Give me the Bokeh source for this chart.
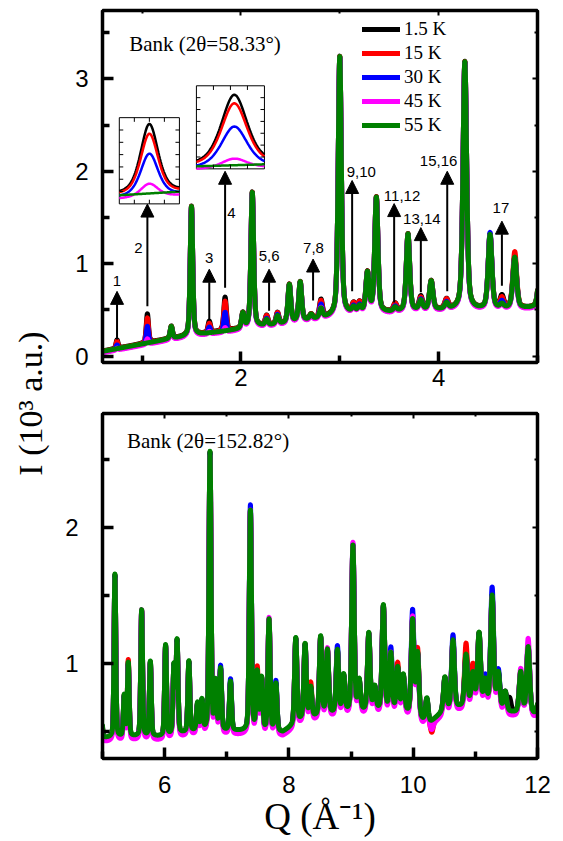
import numpy as np
from bokeh.plotting import figure
from bokeh.models import (Range1d, LinearAxis, FixedTicker, Label, Legend, LegendItem,
                          Arrow, NormalHead, ColumnDataSource)
from bokeh.layouts import row, column
from bokeh.embed import file_html
from bokeh.resources import INLINE
from bokeh.core.properties import value

SERIF = "Liberation Serif"
SANS = "Liberation Sans"

temps = ["1.5 K", "15 K", "30 K", "45 K", "55 K"]
colors = ["#000000", "#ff0000", "#0000ff", "#ff00ff", "#008000"]

# ---------------- Bank 2theta = 58.33 (top) ----------------
top_bg_q = [0.6, 0.8, 1.0, 1.25, 1.45, 1.7, 2.0, 2.2, 2.45, 2.7, 2.9, 3.15, 3.5, 3.8, 4.1, 4.4, 4.7, 5.0]
top_bg_i = [0.05, 0.09, 0.13, 0.18, 0.21, 0.25, 0.29, 0.32, 0.35, 0.39, 0.42, 0.46, 0.47, 0.49, 0.50, 0.50, 0.51, 0.52]
top_peak_q = [1.296, 1.50, 2.02, 2.115, 2.26, 2.37, 2.49, 2.60, 2.71, 2.81, 3.00, 3.14, 3.20, 3.28,
              3.37, 3.56, 3.69, 3.82, 3.925, 4.08, 4.265, 4.52, 4.64, 4.77, 5.03]
top_peak_i = [0.13, 1.40, 0.16, 1.46, 0.06, 0.09, 0.41, 0.42, 0.05, 0.10, 2.80, 0.05, 0.06, 0.42,
              1.24, 0.04, 0.83, 0.10, 0.31, 0.06, 2.68, 0.80, 0.04, 0.55, 0.52]
# temperature dependent (magnetic) contributions
top_mag_q = [0.747, 1.054, 1.68, 1.84, 2.26, 2.37, 2.81, 3.14, 3.20, 3.56, 3.82, 4.08, 4.52, 4.64, 4.77]
top_mag_black = [0.09, 0.31, 0.12, 0.36, 0.04, 0.03, 0.09, 0.04, 0.04, 0.04, 0.04, 0.04, 0.00, 0.09, 0.00]
top_mag_red = [0.08, 0.27, 0.10, 0.32, 0.04, 0.03, 0.08, 0.04, 0.04, 0.04, 0.03, 0.04, 0.00, 0.07, 0.06]
top_mag_blue = [0.05, 0.19, 0.07, 0.21, 0.02, 0.02, 0.05, 0.02, 0.02, 0.02, 0.02, 0.02, 0.03, 0.04, 0.00]
top_mag_magenta = [0.02, 0.06, 0.03, 0.05, 0.01, 0.01, 0.02, 0.01, 0.01, 0.00, 0.01, 0.01, 0.01, 0.01, 0.00]
top_mag_green = [0.0] * 15
top_offset = [0.004, 0.0, -0.010, -0.016, 0.0]

# peak markers (arrows) in the top bank
arrow_q = [0.747, 1.054, 1.68, 1.84, 2.285, 2.73, 3.125, 3.55, 3.82, 4.087, 4.64]
arrow_from = [0.18, 0.54, 0.40, 0.74, 0.49, 0.60, 0.70, 0.58, 0.69, 0.70, 0.76]
arrow_to = [0.70, 1.645, 0.94, 2.00, 0.94, 1.05, 1.90, 1.65, 1.39, 2.00, 1.46]
arrow_text = ["1", "2", "3", "4", "5,6", "7,8", "9,10", "11,12", "13,14", "15,16", "17"]
arrow_text_q = [0.747, 0.963, 1.68, 1.904, 2.285, 2.734, 3.217, 3.63, 3.83, 4.00, 4.63]
arrow_text_i = [0.81, 1.17, 1.06, 1.55, 1.08, 1.17, 1.99, 1.73, 1.48, 2.11, 1.60]

# ---------------- Bank 2theta = 152.82 (bottom) ----------------
bot_bg_q = [5.0, 5.5, 6.0, 6.5, 7.0, 7.5, 7.9, 8.2, 8.6, 9.0, 9.5, 9.9, 10.25, 10.5, 11.0, 11.5, 12.0]
bot_bg_i = [0.45, 0.46, 0.46, 0.50, 0.50, 0.50, 0.49, 0.58, 0.62, 0.64, 0.65, 0.63, 0.55, 0.65, 0.70, 0.64, 0.62]
bot_peak_q = [4.98, 5.20, 5.35, 5.415, 5.63, 5.77, 6.015, 6.15, 6.20, 6.39, 6.53, 6.60, 6.73, 6.82, 6.90,
              7.06, 7.38, 7.49, 7.56, 7.68, 7.79, 8.11, 8.26, 8.35, 8.51, 8.62, 8.78, 8.88, 9.03, 9.13,
              9.285, 9.38, 9.52, 9.64, 9.75, 9.84, 9.99, 10.07, 10.22, 10.51, 10.64, 10.85, 10.96, 11.06,
              11.16, 11.27, 11.37, 11.48, 11.73, 11.85, 12.02]
bot_peak_i = [0.25, 1.20, 0.30, 0.54, 0.93, 0.55, 0.67, 0.50, 0.68, 0.52, 0.20, 0.22, 2.05, 0.35, 0.45,
              0.36, 1.62, 0.42, 0.38, 0.82, 0.35, 0.63, 0.55, 0.22, 0.58, 0.47, 0.46, 0.27, 1.22, 0.22,
              0.57, 0.17, 0.77, 0.42, 0.32, 0.27, 0.70, 0.47, 0.18, 0.24, 0.50, 0.37, 0.22, 0.52,
              0.18, 0.82, 0.26, 0.14, 0.30, 0.49, 0.10]
bot_dev_q = [5.415, 5.63, 6.90, 7.06, 7.38, 7.49, 7.68, 7.79, 8.35, 8.62, 8.78, 9.03, 9.285, 9.64, 9.75,
             9.99, 10.07, 10.30, 10.64, 10.85, 10.96, 11.16, 11.27, 11.37, 11.55, 11.73, 11.85]
bot_dev_black = [0.01, 0.0, 0.0, 0.0, 0.0, 0.0, 0.0, 0.0, 0.0, 0.0, 0.0, 0.0, 0.0, 0.0, 0.0,
                 0.0, 0.0, -0.03, 0.0, 0.02, 0.02, 0.0, 0.0, 0.0, 0.10, 0.0, 0.0]
bot_dev_red = [0.03, 0.0, 0.0, 0.0, 0.0, 0.04, 0.0, 0.0, 0.04, 0.0, 0.0, 0.0, 0.0, 0.0, 0.04,
               0.0, 0.04, -0.08, 0.0, 0.09, 0.07, 0.0, 0.0, 0.0, 0.0, 0.0, 0.0]
bot_dev_blue = [0.0, 0.0, 0.03, 0.03, 0.05, 0.0, 0.0, 0.03, 0.0, 0.0, 0.04, 0.02, 0.0, 0.05, 0.0,
                0.08, 0.0, -0.02, 0.05, 0.0, 0.0, 0.04, 0.07, 0.03, 0.0, 0.0, 0.02]
bot_dev_magenta = [0.0, 0.03, 0.01, 0.0, 0.03, 0.0, 0.04, 0.0, 0.0, 0.04, 0.0, 0.05, 0.02, 0.03, 0.0,
                   0.05, 0.0, -0.04, 0.02, 0.0, 0.0, 0.0, 0.02, 0.0, 0.0, 0.05, 0.09]
bot_dev_green = [0.0] * 27
bot_offset = [-0.005, -0.010, -0.012, -0.030, 0.0]


def pseudo_voigt(q, centers, amps, fa, fb, eta):
    out = np.zeros_like(q)
    for c, a in zip(centers, amps):
        hw = (fa + fb * c) / 2.0
        t = ((q - c) / hw) ** 2
        out += a * (eta / (1.0 + t) + (1.0 - eta) * np.exp(-np.log(2.0) * t))
    return out


q_top = np.linspace(0.6, 5.0, 4401)
top_base = np.interp(q_top, top_bg_q, top_bg_i) + pseudo_voigt(q_top, top_peak_q, top_peak_i, 0.022, 0.005, 0.45)
top_mags = [top_mag_black, top_mag_red, top_mag_blue, top_mag_magenta, top_mag_green]
top_curves = [top_base + pseudo_voigt(q_top, top_mag_q, m, 0.022, 0.005, 0.45) + o
              for m, o in zip(top_mags, top_offset)]

q_bot = np.linspace(5.0, 12.0, 5601)
bot_base = np.interp(q_bot, bot_bg_q, bot_bg_i) + pseudo_voigt(q_bot, bot_peak_q, bot_peak_i, 0.012, 0.004, 0.3)
bot_devs = [bot_dev_black, bot_dev_red, bot_dev_blue, bot_dev_magenta, bot_dev_green]
bot_curves = [bot_base + pseudo_voigt(q_bot, bot_dev_q, d, 0.012, 0.004, 0.3) + o
              for d, o in zip(bot_devs, bot_offset)]


def style_axis(ax, size, standoff, tin, minin, lw):
    ax.axis_line_width = lw
    ax.axis_line_color = "black"
    ax.major_tick_line_width = lw
    ax.minor_tick_line_width = lw
    ax.major_tick_in = tin
    ax.major_tick_out = 0
    ax.minor_tick_in = minin
    ax.minor_tick_out = 0
    ax.major_label_text_font = SANS
    ax.major_label_text_font_size = size
    ax.major_label_text_color = "black"
    ax.major_label_standoff = standoff


def add_axes(p, xt, xm, yt, ym, xstand, ystand):
    xb = LinearAxis(ticker=FixedTicker(ticks=xt, minor_ticks=xm))
    style_axis(xb, "24px", xstand, 11, 7, 3.5)
    p.add_layout(xb, "below")
    yl = LinearAxis(ticker=FixedTicker(ticks=yt, minor_ticks=ym))
    style_axis(yl, "24px", ystand, 11, 7, 3.5)
    p.add_layout(yl, "left")
    # mirrored frame axes: ticks only, no labels
    xa = LinearAxis(ticker=FixedTicker(ticks=xt, minor_ticks=xm),
                    major_label_overrides={t: "" for t in xt})
    style_axis(xa, "1px", 0, 5, 3, 2)
    xa.axis_line_width = 3.5
    p.add_layout(xa, "above")
    yr = LinearAxis(ticker=FixedTicker(ticks=yt, minor_ticks=ym),
                    major_label_overrides={t: "" for t in yt})
    style_axis(yr, "1px", 0, 5, 3, 2)
    yr.axis_line_width = 3.5
    p.add_layout(yr, "right")
    return xb, yl


# ---------------- left strip with the shared y label ----------------
left = figure(width=62, height=841, x_range=Range1d(0, 1), y_range=Range1d(0, 1),
              toolbar_location=None, output_backend="svg", min_border=0,
              x_axis_location=None, y_axis_location=None, outline_line_color=None)
left.grid.visible = False
left.add_layout(Label(x=30, y=438, x_units="screen", y_units="screen", text="I (10³ a.u.)",
                      angle=np.pi / 2, text_align="center", text_baseline="middle",
                      text_font=SERIF, text_font_size="34px", text_color="black"))

# ---------------- top panel ----------------
top = figure(width=501, height=400, x_range=Range1d(0.6, 5.0), y_range=Range1d(-0.07, 3.74),
             toolbar_location=None, output_backend="svg",
             min_border_left=38, min_border_right=25, min_border_top=10, min_border_bottom=38,
             x_axis_location=None, y_axis_location=None, outline_line_color="black", outline_line_width=3)
top.grid.visible = False
add_axes(top, [2, 4], [1, 3, 5], [0, 1, 2, 3], [0.5, 1.5, 2.5, 3.5], 6, 14)

top_renderers = []
for y, c in zip(top_curves, colors):
    r = top.line(q_top, y, line_color=c, line_width=5, line_join="round", line_cap="round")
    top_renderers.append(r)

# insets (zoom on peaks 2 and 4)
inset_box = [(0.770, 1.378, 1.647, 2.580), (1.550, 2.238, 2.026, 2.925)]
inset_win = [(1.014, 1.094, 0.095, 0.485), (1.801, 1.871, 0.255, 0.685)]
for (bx0, bx1, by0, by1), (wx0, wx1, wy0, wy1) in zip(inset_box, inset_win):
    top.quad(left=[bx0], right=[bx1], bottom=[by0], top=[by1], fill_color="white",
             line_color="black", line_width=1)
    m = (q_top >= wx0) & (q_top <= wx1)
    for y, c in zip(top_curves, colors):
        X = bx0 + (q_top[m] - wx0) / (wx1 - wx0) * (bx1 - bx0)
        Y = by0 + (np.clip(y[m], wy0, wy1) - wy0) / (wy1 - wy0) * (by1 - by0)
        top.line(X, Y, line_color=c, line_width=2.5)
    # small inward ticks of the inset frames
    ny = 7
    ys = [by0 + (by1 - by0) * k / ny for k in range(1, ny)]
    xs = [bx0 + (bx1 - bx0) * k / 4 for k in range(1, 4)]
    dx = 0.04
    dy = 0.045
    top.segment(x0=[bx0] * len(ys) + [bx1] * len(ys), x1=[bx0 + dx] * len(ys) + [bx1 - dx] * len(ys),
                y0=ys + ys, y1=ys + ys, line_color="black", line_width=1)
    top.segment(x0=xs + xs, x1=xs + xs, y0=[by0] * 3 + [by1] * 3, y1=[by0 + dy] * 3 + [by1 - dy] * 3,
                line_color="black", line_width=1)

arrow_src = ColumnDataSource(dict(x=arrow_q, y0=arrow_from, y1=arrow_to))
top.add_layout(Arrow(end=NormalHead(size=13, fill_color="black", line_color="black", line_width=1),
                     x_start="x", y_start="y0", x_end="x", y_end="y1", source=arrow_src,
                     line_color="black", line_width=2))
txt_src = ColumnDataSource(dict(x=arrow_text_q, y=arrow_text_i, t=arrow_text))
top.text(x="x", y="y", text="t", source=txt_src, text_font=value(SANS), text_font_size=value("15px"),
         text_align="center", text_baseline="middle", text_color="black")

top.add_layout(Label(x=0.87, y=3.38, text="Bank (2θ=58.33°)", text_font=SERIF, text_font_size="21px",
                     text_align="left", text_baseline="middle", text_color="black"))

legend = Legend(items=[LegendItem(label=t, renderers=[r]) for t, r in zip(temps, top_renderers)],
                location=(260, 226), padding=0, margin=0, spacing=2, glyph_width=38, glyph_height=20,
                label_height=20, label_standoff=4, label_text_font=SERIF, label_text_font_size="19px",
                label_text_color="black", background_fill_alpha=0, border_line_alpha=0)
top.add_layout(legend)

# ---------------- bottom panel ----------------
bot = figure(width=501, height=441, x_range=Range1d(5.0, 12.0), y_range=Range1d(0.30, 2.84),
             toolbar_location=None, output_backend="svg",
             min_border_left=38, min_border_right=26, min_border_top=13, min_border_bottom=83,
             x_axis_location=None, y_axis_location=None, outline_line_color="black", outline_line_width=3)
bot.grid.visible = False
xb, yl = add_axes(bot, [6, 8, 10, 12], [5, 7, 9, 11], [1, 2], [0.5, 1.5, 2.5], 17, 24)
xb.axis_label = "Q (Å⁻¹)"
xb.axis_label_text_font = SERIF
xb.axis_label_text_font_size = "37px"
xb.axis_label_text_font_style = "normal"
xb.axis_label_text_color = "black"
xb.axis_label_standoff = 0

for y, c in zip(bot_curves, colors):
    bot.line(q_bot, y, line_color=c, line_width=5, line_join="round", line_cap="round")

bot.add_layout(Label(x=5.395, y=2.64, text="Bank (2θ=152.82°)", text_font=SERIF, text_font_size="21px",
                     text_align="left", text_baseline="middle", text_color="black"))

layout = row(left, column(top, bot))
open("out.html", "w").write(file_html(layout, INLINE))
